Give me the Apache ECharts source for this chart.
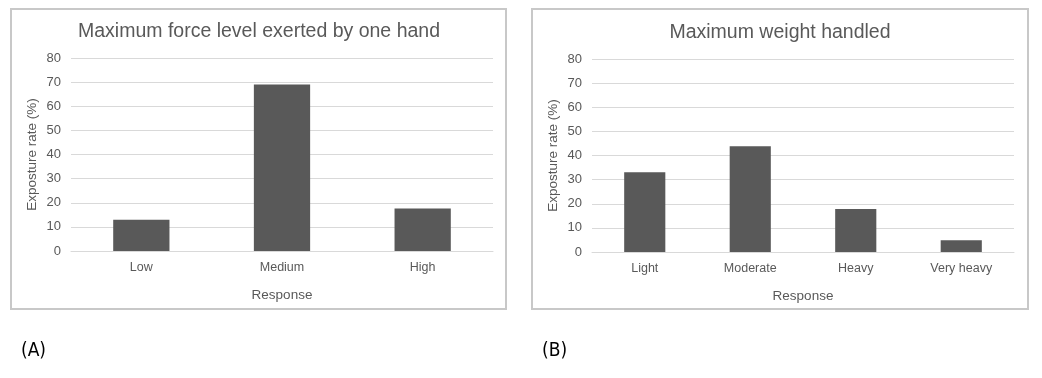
<!DOCTYPE html>
<html>

<head>
    <meta charset="utf-8">
    <script src="https://cdn.jsdelivr.net/npm/echarts@6/dist/echarts.min.js"></script>
    <style type="text/css">
        body { margin: 0; background: #fff; }
        #main { width: 1042px; height: 378px; }
    </style>
</head>

<body>
    <div id="main"></div>
    <script>
        // panel A data
        var forceCats = ['Low', 'Medium', 'High'];
        var forceVals = [13, 69, 17.6];
        // panel B data
        var weightCats = ['Light', 'Moderate', 'Heavy', 'Very heavy'];
        var weightVals = [33.1, 43.8, 17.8, 4.9];
        var yTicks = [0, 10, 20, 30, 40, 50, 60, 70, 80];

        var txt = '#595959';
        var font = 'Liberation Sans, Arial, sans-serif';

        function yAxisCfg(idx) {
            return {
                gridIndex: idx,
                type: 'value',
                min: yTicks[0],
                max: yTicks[yTicks.length - 1],
                interval: 10,
                name: 'Exposture rate (%)',
                nameLocation: 'middle',
                nameGap: 32,
                nameTextStyle: { color: txt, fontSize: 13.5, fontFamily: font },
                axisLine: { show: false },
                axisTick: { show: false },
                axisLabel: { color: txt, fontSize: 13, fontFamily: font, margin: 10 },
                splitLine: { lineStyle: { color: '#d9d9d9', width: 1 } }
            };
        }

        function xAxisCfg(idx, cats) {
            return {
                gridIndex: idx,
                type: 'category',
                data: cats,
                name: 'Response',
                nameLocation: 'middle',
                nameGap: 37,
                nameTextStyle: { color: txt, fontSize: 13.5, fontFamily: font },
                axisLine: { lineStyle: { color: '#d9d9d9' } },
                axisTick: { show: false },
                axisLabel: { color: txt, fontSize: 12.5, fontFamily: font, margin: 10 }
            };
        }

        var myChart = echarts.init(document.getElementById('main'));
        var option = {
            animation: false,
            title: [{
                text: 'Maximum force level exerted by one hand',
                left: 254, top: 17, textAlign: 'center',
                textStyle: { color: txt, fontSize: 19.5, fontWeight: 'normal', fontFamily: font }
            }, {
                text: 'Maximum weight handled',
                left: 775, top: 18, textAlign: 'center',
                textStyle: { color: txt, fontSize: 19.5, fontWeight: 'normal', fontFamily: font }
            }],
            grid: [
                { left: 71, right: 549, top: 58, bottom: 127 },
                { left: 592, right: 28, top: 59, bottom: 126 }
            ],
            xAxis: [xAxisCfg(0, forceCats), xAxisCfg(1, weightCats)],
            yAxis: [yAxisCfg(0), yAxisCfg(1)],
            series: [{
                type: 'bar',
                xAxisIndex: 0, yAxisIndex: 0,
                data: forceVals,
                barWidth: '40%',
                itemStyle: { color: '#595959' }
            }, {
                type: 'bar',
                xAxisIndex: 1, yAxisIndex: 1,
                data: weightVals,
                barWidth: '39%',
                itemStyle: { color: '#595959' }
            }],
            graphic: [
                // panel frames
                { type: 'rect', shape: { x: 11, y: 9, width: 495, height: 300 }, style: { fill: 'none', stroke: '#c8c8c8', lineWidth: 2 }, z: -1 },
                { type: 'rect', shape: { x: 532, y: 9, width: 496, height: 300 }, style: { fill: 'none', stroke: '#c8c8c8', lineWidth: 2 }, z: -1 },
                // panel labels
                { type: 'text', left: 21, top: 342, style: { text: '(A)', fill: '#000', font: '19px "DejaVu Sans Condensed", sans-serif' } },
                { type: 'text', left: 542, top: 342, style: { text: '(B)', fill: '#000', font: '19px "DejaVu Sans Condensed", sans-serif' } }
            ]
        };
        myChart.setOption(option);
    </script>
</body>

</html>
